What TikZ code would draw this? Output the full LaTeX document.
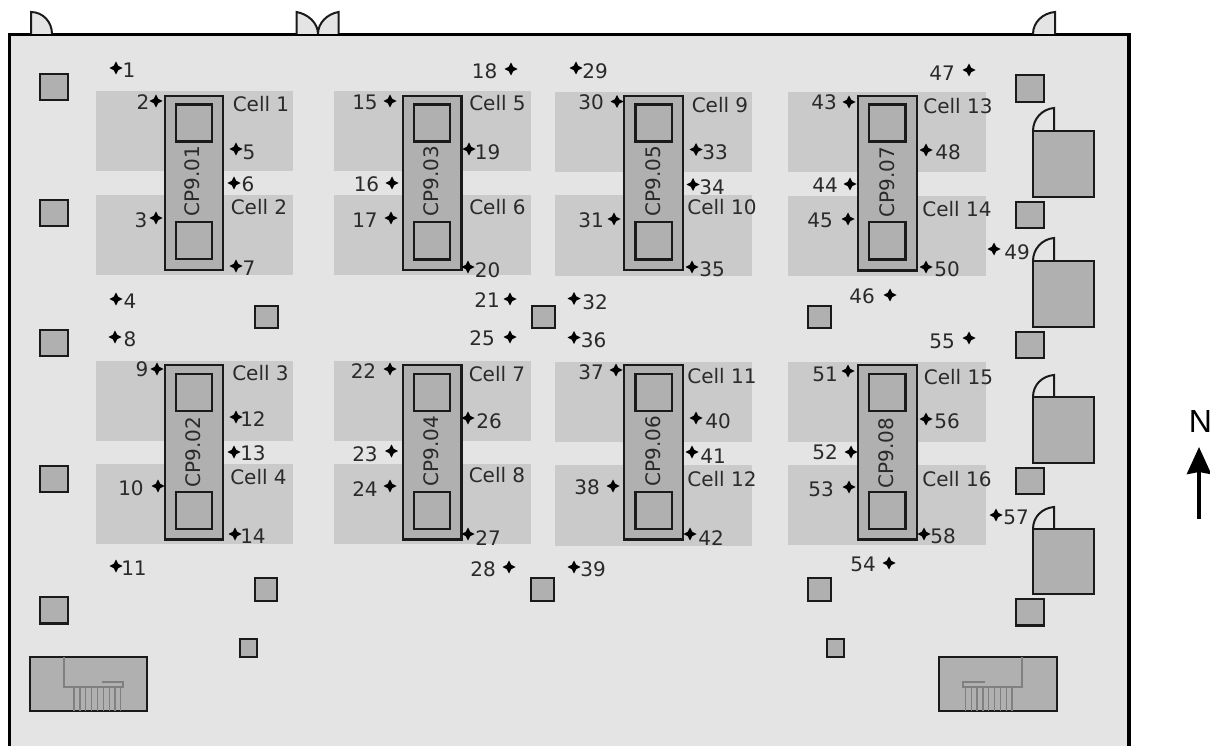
\documentclass[tikz,border=0pt]{standalone}
\usepackage{fontspec}
\setmainfont{DejaVu Sans}
\newfontfamily\northfont{Liberation Sans}
\usepackage{xcolor}
\usepackage{tikz}
\usetikzlibrary{shapes.geometric,arrows.meta}
\definecolor{floorgrey}{HTML}{E4E4E4}
\definecolor{cellgrey}{HTML}{CACACA}
\definecolor{unitgrey}{HTML}{B0B0B0}
\definecolor{ink}{HTML}{2A2A2A}
\definecolor{edge}{HTML}{1A1A1A}
\definecolor{linegrey}{HTML}{808080}
\tikzset{
  wall/.style={line width=3.5pt, draw=black},
  door/.style={line width=2pt, draw=edge, fill=floorgrey},
  cell/.style={fill=cellgrey, draw=none},
  unit/.style={line width=2.1pt, draw=edge, fill=unitgrey},
  stairline/.style={line width=1.2pt, draw=linegrey},
  spot/.style={star, star points=4, star point ratio=2.1, minimum size=13pt, inner sep=0pt, fill=black},
  lab/.style={text=ink, font=\fontsize{20}{22}\selectfont, inner sep=0pt},
  cplab/.style={lab, rotate=90},
}
\begin{document}
\begin{tikzpicture}[x=1pt,y=-1pt]
  \useasboundingbox (0,0) rectangle (1210,746);

  % floor
  \fill[floorgrey] (9.5,34.5) rectangle (1129,746);
  \draw[wall] (9.5,746) -- (9.5,34.5) -- (1129,34.5) -- (1129,746);

  % doors
  \draw[door] (31,34) -- (31,12) .. controls (43,12) and (52,22) .. (52,34);
  \draw[door] (296.5,34) -- (296.5,12) .. controls (308,14) and (318,23) .. (318,34);
  \draw[door] (338.5,34) -- (338.5,12) .. controls (327,14) and (318,23) .. (318,34);
  \draw[door] (1055,34) -- (1055,12) .. controls (1043,13) and (1033,22) .. (1033,34);

  % cells
  \fill[cell] (96,91) rectangle (293,171);
  \fill[cell] (96,195) rectangle (293,275);
  \fill[cell] (96,361) rectangle (293,441);
  \fill[cell] (96,464) rectangle (293,544);
  \fill[cell] (334,91) rectangle (531,171);
  \fill[cell] (334,195) rectangle (531,275);
  \fill[cell] (334,361) rectangle (531,441);
  \fill[cell] (334,464) rectangle (531,544);
  \fill[cell] (555,92) rectangle (752,172);
  \fill[cell] (555,195) rectangle (752,276);
  \fill[cell] (555,362) rectangle (752,442);
  \fill[cell] (555,465) rectangle (752,546);
  \fill[cell] (788,92) rectangle (986,172);
  \fill[cell] (788,196) rectangle (986,276);
  \fill[cell] (788,362) rectangle (986,442);
  \fill[cell] (788,465) rectangle (986,545);

  % CP units
  \draw[unit] (165,96) rectangle (223,270);
  \draw[unit] (176,104.5) rectangle (212,141.5);
  \draw[unit] (176,222) rectangle (212,259);
  \draw[unit] (165,365) rectangle (223,539.5);
  \draw[unit] (176,374) rectangle (212,411);
  \draw[unit] (176,492) rectangle (212,529);
  \draw[unit] (403,96) rectangle (461.5,270);
  \draw[unit] (414,104.5) rectangle (450,141.5);
  \draw[unit] (414,222) rectangle (450,259.5);
  \draw[unit] (403,365) rectangle (461.5,539.5);
  \draw[unit] (414,374) rectangle (450,411);
  \draw[unit] (414,492) rectangle (450,529);
  \draw[unit] (624,96) rectangle (683,270);
  \draw[unit] (635.5,104.5) rectangle (672,141.5);
  \draw[unit] (635.5,222) rectangle (672,259.5);
  \draw[unit] (624,365) rectangle (683,539.5);
  \draw[unit] (635.5,374) rectangle (672,411);
  \draw[unit] (635.5,492) rectangle (672,529);
  \draw[unit] (858,96) rectangle (917,270.5);
  \draw[unit] (869,104.5) rectangle (905.5,141.5);
  \draw[unit] (869,222) rectangle (905.5,259.5);
  \draw[unit] (858,365) rectangle (917,539.5);
  \draw[unit] (869,374) rectangle (905.5,411);
  \draw[unit] (869,492) rectangle (905.5,529);

  \node[cplab] (cp1) at (192,181) {CP9.01};
  \node[cplab] (cp2) at (193.5,452) {CP9.02};
  \node[cplab] (cp3) at (431.5,181) {CP9.03};
  \node[cplab] (cp4) at (431.5,451) {CP9.04};
  \node[cplab] (cp5) at (653.5,181) {CP9.05};
  \node[cplab] (cp6) at (653.5,451) {CP9.06};
  \node[cplab] (cp7) at (887,182) {CP9.07};
  \node[cplab] (cp8) at (886,453) {CP9.08};

  % columns
  \draw[unit] (40,74) rectangle (68,100);
  \draw[unit] (40,200) rectangle (68,226);
  \draw[unit] (40,330) rectangle (68,356);
  \draw[unit] (40,466) rectangle (68,492);
  \draw[unit] (40,597) rectangle (68,623.5);
  \draw[unit] (1016,75) rectangle (1044,102);
  \draw[unit] (1016,202) rectangle (1044,228);
  \draw[unit] (1016,332) rectangle (1044,358);
  \draw[unit] (1016,468) rectangle (1044,494);
  \draw[unit] (1016,599) rectangle (1044,625.5);
  \draw[unit] (255,306) rectangle (278,328);
  \draw[unit] (532,306) rectangle (555,328);
  \draw[unit] (808,306) rectangle (831,328);
  \draw[unit] (255,578) rectangle (277,601);
  \draw[unit] (531,578) rectangle (554,601);
  \draw[unit] (808,578) rectangle (831,601);
  \draw[unit] (240,639) rectangle (257,657);
  \draw[unit] (827,639) rectangle (844,657);

  % rooms on the east side
  \draw[door] (1054,131) -- (1054,108) .. controls (1042,109) and (1033,119) .. (1033,131);
  \draw[unit] (1033,131) rectangle (1094,197);
  \draw[door] (1054,261) -- (1054,238) .. controls (1042,239) and (1033,249) .. (1033,261);
  \draw[unit] (1033,261) rectangle (1094,327);
  \draw[door] (1054,397) -- (1054,375) .. controls (1042,376) and (1033,385) .. (1033,397);
  \draw[unit] (1033,397) rectangle (1094,463);
  \draw[door] (1054,529) -- (1054,507) .. controls (1042,508) and (1033,517) .. (1033,529);
  \draw[unit] (1033,529) rectangle (1094,594);

  % stairs
  \draw[unit] (30,657) rectangle (147,711);
  \draw[stairline] (64,657) -- (64,687) -- (123,687) -- (123,682) -- (102,682);
  \draw[stairline] (74,687) -- (74,711) (80,687) -- (80,711) (85.8,687) -- (85.8,711) (91.7,687) -- (91.7,711)
    (97.6,687) -- (97.6,711) (103.4,687) -- (103.4,711) (109.3,687) -- (109.3,711) (115,687) -- (115,711) (120.8,687) -- (120.8,711);
  \draw[unit] (939,657) rectangle (1057,711);
  \draw[stairline] (1022,657) -- (1022,687) -- (963,687) -- (963,682) -- (985,682);
  \draw[stairline] (965.3,687) -- (965.3,711) (971.2,687) -- (971.2,711) (977,687) -- (977,711) (982.9,687) -- (982.9,711)
    (988.8,687) -- (988.8,711) (994.6,687) -- (994.6,711) (1000.5,687) -- (1000.5,711) (1006.3,687) -- (1006.3,711) (1012,687) -- (1012,711);

  % cell names
  \node[lab] (cell1) at (261,104) {Cell 1};
  \node[lab] (cell2) at (259,207) {Cell 2};
  \node[lab] (cell3) at (260.5,373) {Cell 3};
  \node[lab] (cell4) at (258.5,477) {Cell 4};
  \node[lab] (cell5) at (497.5,103) {Cell 5};
  \node[lab] (cell6) at (497.5,207) {Cell 6};
  \node[lab] (cell7) at (497,374) {Cell 7};
  \node[lab] (cell8) at (497,475.5) {Cell 8};
  \node[lab] (cell9) at (720,105) {Cell 9};
  \node[lab] (cell10) at (722,207) {Cell 10};
  \node[lab] (cell11) at (722,376) {Cell 11};
  \node[lab] (cell12) at (722,479) {Cell 12};
  \node[lab] (cell13) at (958,106) {Cell 13};
  \node[lab] (cell14) at (957,209) {Cell 14};
  \node[lab] (cell15) at (958.5,377) {Cell 15};
  \node[lab] (cell16) at (957,479) {Cell 16};

  % measuring points
  \node[spot] (s1) at (116,68) {};    \node[lab] (n1) at (129,70) {1};
  \node[spot] (s2) at (156,101) {};   \node[lab] (n2) at (143,102) {2};
  \node[spot] (s3) at (156,218) {};   \node[lab] (n3) at (141,220) {3};
  \node[spot] (s4) at (116,299) {};   \node[lab] (n4) at (130,301) {4};
  \node[spot] (s5) at (236,149) {};   \node[lab] (n5) at (249,152) {5};
  \node[spot] (s6) at (234,183) {};   \node[lab] (n6) at (248,184) {6};
  \node[spot] (s7) at (236,266) {};   \node[lab] (n7) at (249,268) {7};
  \node[spot] (s8) at (115,337) {};   \node[lab] (n8) at (130,339) {8};
  \node[spot] (s9) at (157,369) {};   \node[lab] (n9) at (142,369) {9};
  \node[spot] (s10) at (158,486) {};  \node[lab] (n10) at (131,488) {10};
  \node[spot] (s11) at (116,566) {};  \node[lab] (n11) at (134,568) {11};
  \node[spot] (s12) at (236,417) {};  \node[lab] (n12) at (253,419) {12};
  \node[spot] (s13) at (234,452) {};  \node[lab] (n13) at (253,453) {13};
  \node[spot] (s14) at (235,534) {};  \node[lab] (n14) at (253,536) {14};
  \node[spot] (s15) at (390,101) {};  \node[lab] (n15) at (365,102) {15};
  \node[spot] (s16) at (392,183) {};  \node[lab] (n16) at (366.5,184.5) {16};
  \node[spot] (s17) at (391,218) {};  \node[lab] (n17) at (365,220) {17};
  \node[spot] (s18) at (511,69) {};   \node[lab] (n18) at (484.5,71) {18};
  \node[spot] (s19) at (469,149) {};  \node[lab] (n19) at (487.5,152.5) {19};
  \node[spot] (s20) at (468,267) {};  \node[lab] (n20) at (487.5,270) {20};
  \node[spot] (s21) at (510,299) {};  \node[lab] (n21) at (487,300) {21};
  \node[spot] (s22) at (390,369) {};  \node[lab] (n22) at (363.5,371) {22};
  \node[spot] (s23) at (391.5,451) {};\node[lab] (n23) at (365,454) {23};
  \node[spot] (s24) at (390,486) {};  \node[lab] (n24) at (365,489) {24};
  \node[spot] (s25) at (510,337) {};  \node[lab] (n25) at (482,338) {25};
  \node[spot] (s26) at (468,418) {};  \node[lab] (n26) at (489,421) {26};
  \node[spot] (s27) at (468,534) {};  \node[lab] (n27) at (488,538) {27};
  \node[spot] (s28) at (509,567) {};  \node[lab] (n28) at (483,569) {28};
  \node[spot] (s29) at (576,68) {};   \node[lab] (n29) at (595,71) {29};
  \node[spot] (s30) at (617,101.5) {};\node[lab] (n30) at (591,102) {30};
  \node[spot] (s31) at (614,219) {};  \node[lab] (n31) at (591,220) {31};
  \node[spot] (s32) at (574,298.5) {};\node[lab] (n32) at (595,302) {32};
  \node[spot] (s33) at (696,149.5) {};\node[lab] (n33) at (715,152) {33};
  \node[spot] (s34) at (693,184.5) {};\node[lab] (n34) at (712,187) {34};
  \node[spot] (s35) at (692,267) {};  \node[lab] (n35) at (712,269) {35};
  \node[spot] (s36) at (574,337.5) {};\node[lab] (n36) at (593.5,340) {36};
  \node[spot] (s37) at (616,370) {};  \node[lab] (n37) at (591,372) {37};
  \node[spot] (s38) at (613,486) {};  \node[lab] (n38) at (587,487) {38};
  \node[spot] (s39) at (574,567) {};  \node[lab] (n39) at (593,569) {39};
  \node[spot] (s40) at (696,418) {};  \node[lab] (n40) at (718,421) {40};
  \node[spot] (s41) at (692,452) {};  \node[lab] (n41) at (713,456) {41};
  \node[spot] (s42) at (690,534) {};  \node[lab] (n42) at (711,538) {42};
  \node[spot] (s43) at (849,102) {};  \node[lab] (n43) at (824,102) {43};
  \node[spot] (s44) at (850,184) {};  \node[lab] (n44) at (825,185) {44};
  \node[spot] (s45) at (848,219) {};  \node[lab] (n45) at (820,220) {45};
  \node[spot] (s46) at (890,295) {};  \node[lab] (n46) at (862,296) {46};
  \node[spot] (s47) at (969,70) {};   \node[lab] (n47) at (942,73) {47};
  \node[spot] (s48) at (926,150) {};  \node[lab] (n48) at (948,152) {48};
  \node[spot] (s49) at (994,249) {};  \node[lab] (n49) at (1017,252) {49};
  \node[spot] (s50) at (926,267) {};  \node[lab] (n50) at (947,269) {50};
  \node[spot] (s51) at (848,371) {};  \node[lab] (n51) at (825,374) {51};
  \node[spot] (s52) at (851,452) {};  \node[lab] (n52) at (825,452) {52};
  \node[spot] (s53) at (849,487) {};  \node[lab] (n53) at (821,489) {53};
  \node[spot] (s54) at (889,563) {};  \node[lab] (n54) at (863,564) {54};
  \node[spot] (s55) at (969,338) {};  \node[lab] (n55) at (942,341) {55};
  \node[spot] (s56) at (926,419) {};  \node[lab] (n56) at (947,421) {56};
  \node[spot] (s57) at (996,515) {};  \node[lab] (n57) at (1016,517) {57};
  \node[spot] (s58) at (924,534) {};  \node[lab] (n58) at (943,536) {58};

  % north arrow
  \node[text=black, font=\fontsize{32}{32}\northfont, inner sep=0pt] (north) at (1200.5,421.5) {N};
  \coordinate (arrowtail) at (1199,519);
  \coordinate (arrowtip) at (1199,447);
  \draw[line width=4pt, black, -{Stealth[length=27pt,width=24pt,inset=2pt]}] (arrowtail) -- (arrowtip);
\end{tikzpicture}
\end{document}
